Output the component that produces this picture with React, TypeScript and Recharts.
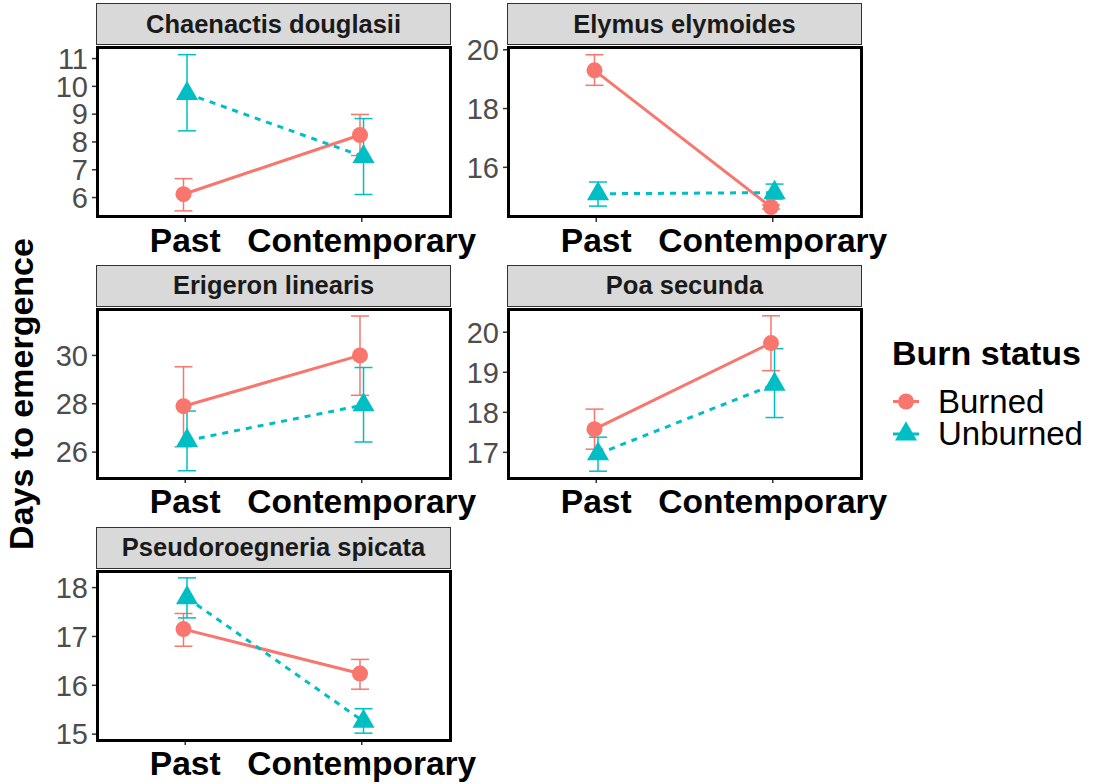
import React from "react";
import { ComposedChart, Line, XAxis, YAxis, ErrorBar } from "recharts";

const periods = ["Past", "Contemporary"];
const species = [
  "Chaenactis douglasii",
  "Elymus elymoides",
  "Erigeron linearis",
  "Poa secunda",
  "Pseudoroegneria spicata",
];

// [Past, Contemporary] for each species, same order as above
const burnedMean = [[6.12, 8.25], [19.3, 14.65], [27.9, 30.0], [17.58, 19.73], [17.15, 16.24]];
const burnedLow = [[5.52, 7.51], [18.79, 14.58], [26.22, 28.35], [17.08, 19.04], [16.8, 15.92]];
const burnedHigh = [[6.68, 8.99], [19.83, 14.72], [29.53, 31.63], [18.08, 20.41], [17.47, 16.53]];

const unburnedMean = [[9.74, 7.47], [15.1, 15.14], [26.48, 27.95], [16.96, 18.7], [17.79, 15.26]];
const unburnedLow = [[8.4, 6.11], [14.68, 14.92], [25.23, 26.42], [16.53, 17.87], [17.38, 15.02]];
const unburnedHigh = [[11.14, 8.84], [15.5, 15.43], [27.7, 29.5], [17.38, 19.59], [18.2, 15.52]];

const yTicks = [[6, 7, 8, 9, 10, 11], [16, 18, 20], [26, 28, 30], [17, 18, 19, 20], [15, 16, 17, 18]];
const yDomains = [[5.3, 11.38], [14.31, 20.06], [24.93, 31.92], [16.36, 20.58], [14.88, 18.34]];

const RED = "#F8766D";
const CYAN = "#00BFC4";
const FONT = '"Liberation Sans", Arial, Helvetica, sans-serif';
const DODGE = 0.01;

const PANEL_W = 353;
const PANEL_H = 169;
const COLS = [97, 508];
const ROWS = [47.5, 309, 571];
const Y_AXIS_W = 60;
const TOP_PAD = 20;

function buildRows(mean: number[][], low: number[][], high: number[][], i: number, shift: number) {
  return periods.map((p, j) => ({
    period: p,
    x: j + 1 + shift,
    y: mean[i][j],
    err: [mean[i][j] - low[i][j], high[i][j] - mean[i][j]],
  }));
}

const Triangle = (props: any) => {
  const { cx, cy } = props;
  if (cx == null || cy == null) return null;
  const s = 8.2;
  const d = `M${cx},${cy - 1.555 * s} L${cx + 1.347 * s},${cy + 0.778 * s} L${cx - 1.347 * s},${cy + 0.778 * s} Z`;
  return <path key={`tri-${cx}-${cy}`} d={d} fill={CYAN} />;
};

function Panel({ i }: { i: number }) {
  const left = COLS[i % 2];
  const top = ROWS[Math.floor(i / 2)];
  const burned = buildRows(burnedMean, burnedLow, burnedHigh, i, -DODGE);
  const unburned = buildRows(unburnedMean, unburnedLow, unburnedHigh, i, DODGE);

  return (
    <>
      {/* strip */}
      <div
        style={{
          position: "absolute",
          left: left - 1,
          top: top - 44.5,
          width: PANEL_W + 2,
          height: 42,
          boxSizing: "border-box",
          background: "#D9D9D9",
          border: "1px solid #333333",
          display: "flex",
          alignItems: "center",
          justifyContent: "center",
          fontFamily: FONT,
          fontWeight: "bold",
          fontSize: 25.5,
          color: "#1A1A1A",
        }}
      >
        {species[i]}
      </div>
      <div style={{ position: "absolute", left: left - Y_AXIS_W, top: top - TOP_PAD }}>
        <ComposedChart
          width={Y_AXIS_W + PANEL_W + 40}
          height={TOP_PAD + PANEL_H + 50}
          margin={{ top: TOP_PAD, right: 40, bottom: 0, left: 0 }}
        >
          <XAxis
            dataKey="x"
            type="number"
            domain={[0.5, 2.5]}
            ticks={[1, 2]}
            interval={0}
            allowDataOverflow
            tickFormatter={(v) => periods[Math.round(v) - 1]}
            axisLine={false}
            tickLine={{ stroke: "#333333", strokeWidth: 1.5 }}
            tickSize={5}
            tickMargin={6}
            height={50}
            tick={{ fill: "#000", fontSize: 33.5, fontWeight: "bold", fontFamily: FONT }}
          />
          <YAxis
            type="number"
            domain={yDomains[i]}
            ticks={yTicks[i]}
            interval={0}
            allowDataOverflow
            axisLine={false}
            tickLine={{ stroke: "#333333", strokeWidth: 1.5 }}
            tickSize={5}
            tickMargin={4}
            width={Y_AXIS_W}
            tick={{ fill: "#4D4D4D", fontSize: 29, fontFamily: FONT }}
          />
          <Line
            data={burned}
            dataKey="y"
            type="linear"
            stroke={RED}
            strokeWidth={3}
            dot={{ r: 8, fill: RED, stroke: RED, strokeWidth: 0 }}
            isAnimationActive={false}
          >
            <ErrorBar dataKey="err" direction="y" width={9} stroke={RED} strokeWidth={1.5} />
          </Line>
          <Line
            data={unburned}
            dataKey="y"
            type="linear"
            stroke={CYAN}
            strokeWidth={3}
            strokeDasharray="6 6"
            dot={Triangle}
            isAnimationActive={false}
          >
            <ErrorBar dataKey="err" direction="y" width={9} stroke={CYAN} strokeWidth={1.5} />
          </Line>
        </ComposedChart>
      </div>
      {/* panel border */}
      <div
        style={{
          position: "absolute",
          left: left - 1.5,
          top: top - 1.5,
          width: PANEL_W + 3,
          height: PANEL_H + 3,
          boxSizing: "border-box",
          border: "3px solid #000",
          pointerEvents: "none",
        }}
      />
    </>
  );
}

export default function App() {
  return (
    <div
      style={{
        position: "absolute",
        left: 0,
        top: 0,
        width: 1094,
        height: 784,
        background: "#fff",
        overflow: "hidden",
        fontFamily: FONT,
      }}
    >
      {species.map((_, i) => (
        <Panel key={species[i]} i={i} />
      ))}
      <svg width={1094} height={784} style={{ position: "absolute", left: 0, top: 0, pointerEvents: "none" }}>
        <text
          x={33}
          y={394}
          transform="rotate(-90 33 394)"
          textAnchor="middle"
          fontFamily={FONT}
          fontWeight="bold"
          fontSize={34}
          fill="#000"
        >
          Days to emergence
        </text>
        <text x={892} y={365} fontFamily={FONT} fontWeight="bold" fontSize={34} fill="#000">
          Burn status
        </text>
        <line x1={893} y1={401.5} x2={919} y2={401.5} stroke={RED} strokeWidth={3} />
        <circle cx={906} cy={401.5} r={8} fill={RED} />
        <text x={938} y={413} fontFamily={FONT} fontSize={33} fill="#000">
          Burned
        </text>
        <line x1={893} y1={434} x2={919} y2={434} stroke={CYAN} strokeWidth={3} />
        <path d={`M906,${434 - 12.7} L917,${434 + 6.4} L895,${434 + 6.4} Z`} fill={CYAN} />
        <text x={938} y={445} fontFamily={FONT} fontSize={33} fill="#000">
          Unburned
        </text>
      </svg>
    </div>
  );
}
